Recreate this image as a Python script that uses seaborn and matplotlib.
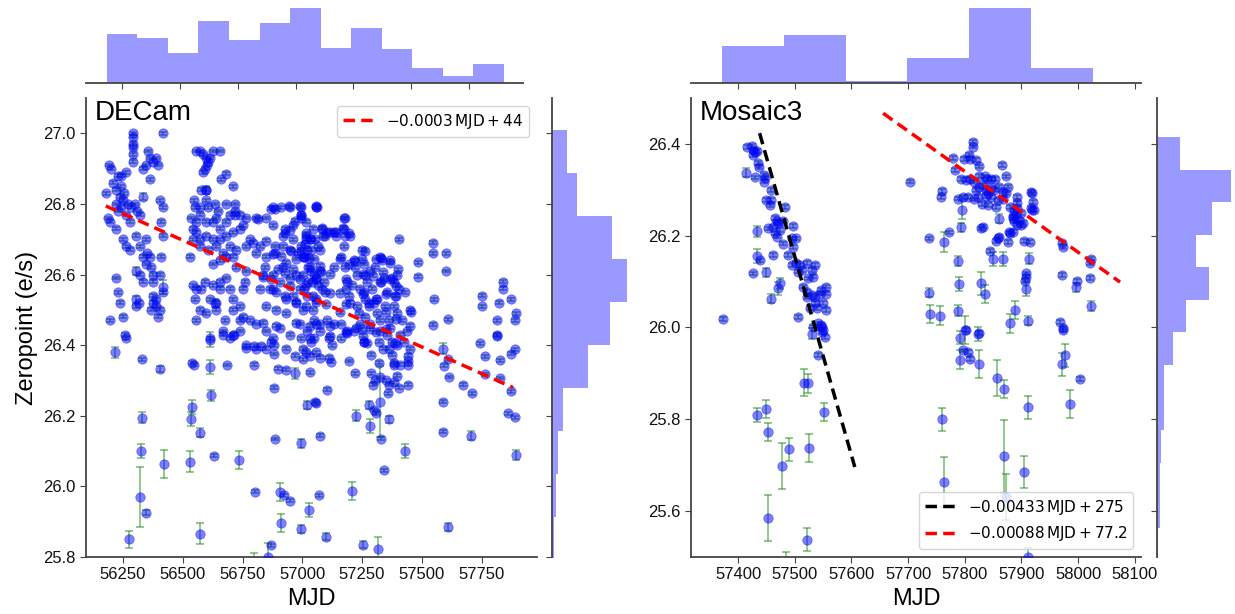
import numpy as np
import matplotlib
matplotlib.use("Agg")
import matplotlib.pyplot as plt
from matplotlib.ticker import MultipleLocator
import pandas as pd
import seaborn as sns

# ---------------- DECam: zeropoints per season (MJD, ZP in e/s) ----------------
dec_s1_mjd = [56180, 56191, 56198, 56187, 56194, 56219, 56229, 56243, 56261, 56208,
              56222, 56236, 56250, 56243, 56264, 56278, 56292, 56292, 56292, 56292,
              56292, 56292, 56222, 56229, 56250, 56264, 56278, 56306, 56320, 56334,
              56348, 56320, 56334, 56194, 56222, 56229, 56236, 56250, 56264, 56334,
              56355, 56362, 56375, 56389, 56395, 56348, 56417, 56403, 56417, 56410,
              56417, 56410, 56406, 56417, 56375, 56389, 56375, 56389, 56396, 56369,
              56403, 56306, 56316, 56348, 56352, 56362, 56369, 56375, 56375, 56300,
              56310, 56320, 56270, 56285, 56240, 56255, 56328, 56260, 56362]
dec_s1_zp = [26.83, 26.91, 26.90, 26.76, 26.75, 26.73, 26.88, 26.88, 26.89, 26.86,
             26.84, 26.82, 26.81, 26.79, 26.77, 26.75, 27.00, 26.99, 26.97, 26.96,
             26.94, 26.92, 26.80, 26.78, 26.70, 26.68, 26.67, 26.71, 26.68, 26.65,
             26.63, 26.60, 26.58, 26.47, 26.59, 26.55, 26.52, 26.48, 26.42, 26.90,
             26.95, 26.93, 26.92, 26.93, 26.91, 26.91, 27.00, 26.81, 26.79, 26.75,
             26.71, 26.65, 26.60, 26.55, 26.54, 26.53, 26.52, 26.51, 26.48, 26.50,
             26.50, 26.51, 26.52, 26.70, 26.66, 26.65, 26.62, 26.60, 26.58, 26.80,
             26.78, 26.77, 26.80, 26.79, 26.85, 26.83, 26.36, 26.43, 26.87]

dec_s2_mjd = [56557, 56571, 56585, 56596, 56606, 56612, 56592, 56585, 56603, 56654,
              56626, 56661, 56679, 56710, 56578, 56599, 56599, 56546, 56553, 56571,
              56606, 56633, 56647, 56682, 56717, 56720, 56536, 56557, 56571, 56599,
              56626, 56640, 56654, 56682, 56696, 56717, 56738, 56766, 56808, 56543,
              56557, 56571, 56599, 56626, 56654, 56682, 56710, 56738, 56752, 56780,
              56543, 56571, 56606, 56640, 56668, 56696, 56724, 56766, 56794, 56529,
              56626, 56654, 56682, 56724, 56710, 56766, 56808, 56759, 56752, 56543,
              56557, 56578, 56592, 56626, 56654, 56682, 56612, 56640, 56654, 56696,
              56710, 56738, 56550, 56571, 56599, 56640, 56675, 56710, 56738, 56752,
              56780, 56557, 56612, 56668, 56710, 56738, 56696, 56539, 56546, 56631,
              56687, 56764, 56800, 56800, 56828, 56668, 56715]
dec_s2_zp = [26.95, 26.95, 26.94, 26.93, 26.92, 26.93, 26.90, 26.89, 26.91, 26.95,
             26.95, 26.87, 26.885, 26.85, 26.84, 26.84, 26.81, 26.81, 26.79, 26.79,
             26.79, 26.80, 26.78, 26.80, 26.80, 26.78, 26.76, 26.75, 26.77, 26.75,
             26.75, 26.76, 26.73, 26.75, 26.77, 26.77, 26.77, 26.76, 26.76, 26.73,
             26.72, 26.70, 26.71, 26.70, 26.70, 26.71, 26.72, 26.73, 26.74, 26.70,
             26.70, 26.68, 26.67, 26.68, 26.66, 26.68, 26.67, 26.68, 26.69, 26.65,
             26.63, 26.64, 26.65, 26.62, 26.65, 26.61, 26.66, 26.58, 26.56, 26.57,
             26.56, 26.56, 26.58, 26.57, 26.58, 26.59, 26.53, 26.52, 26.56, 26.56,
             26.53, 26.51, 26.53, 26.50, 26.49, 26.50, 26.47, 26.50, 26.47, 26.48,
             26.47, 26.47, 26.42, 26.44, 26.43, 26.44, 26.42, 26.35, 26.345, 26.087,
             26.344, 26.392, 26.345, 26.399, 26.399, 26.43, 26.43]

dec_s3_mjd = [56877, 56912, 56947, 56996, 57059, 56849, 56877, 56926, 56961, 56996,
              57017, 57045, 56919, 56961, 57017, 57052, 56822, 56849, 56884, 56919,
              56947, 56982, 57010, 57038, 57066, 56835, 56877, 56919, 56947, 56975,
              57003, 57031, 57059, 56822, 56863, 56891, 56933, 56961, 56989, 57017,
              57045, 57066, 56849, 56891, 56933, 56975, 57003, 57045, 56808, 56849,
              56877, 56905, 56947, 56989, 57031, 57059, 56766, 56808, 56849, 56933,
              57003, 56993, 57060, 57014, 57035, 57083, 57087, 57104, 57132, 57139,
              57174, 57174, 57178, 57199, 56993, 57007, 57021, 57076, 57035, 57049,
              57076, 57090, 57042, 57083, 57007, 57021, 57056, 57097, 57132, 57160,
              57174, 57194, 57187, 57194, 57201, 57160, 57132, 57104, 57076, 57049,
              57021, 56993, 57111, 57160, 56881, 56884, 56922, 56949, 57054, 57056,
              57068, 57075, 56868, 56881, 56881, 56898, 56933, 56969, 57004, 57014,
              57031, 57038, 57059, 56804, 56870, 57104, 57032, 57049, 57076, 57111,
              57121, 57125, 57115, 57188]
dec_s3_zp = [26.79, 26.79, 26.79, 26.79, 26.79, 26.76, 26.74, 26.73, 26.74, 26.76,
             26.75, 26.73, 26.71, 26.70, 26.70, 26.70, 26.68, 26.65, 26.66, 26.68,
             26.67, 26.66, 26.65, 26.67, 26.68, 26.60, 26.60, 26.62, 26.59, 26.60,
             26.60, 26.62, 26.59, 26.56, 26.56, 26.55, 26.53, 26.54, 26.56, 26.57,
             26.54, 26.57, 26.51, 26.50, 26.49, 26.52, 26.50, 26.50, 26.46, 26.44,
             26.42, 26.45, 26.43, 26.46, 26.42, 26.46, 26.40, 26.39, 26.39, 26.39,
             26.39, 26.77, 26.79, 26.71, 26.70, 26.73, 26.71, 26.72, 26.72, 26.71,
             26.76, 26.73, 26.71, 26.71, 26.68, 26.65, 26.67, 26.67, 26.61, 26.60,
             26.61, 26.58, 26.58, 26.56, 26.56, 26.54, 26.53, 26.55, 26.62, 26.65,
             26.68, 26.63, 26.58, 26.54, 26.52, 26.46, 26.46, 26.47, 26.46, 26.47,
             26.44, 26.42, 26.42, 26.42, 26.28, 26.134, 25.975, 25.96, 26.24, 26.235,
             25.975, 26.143, 26.41, 26.40, 26.375, 26.333, 26.33, 26.37, 26.36, 26.38,
             26.37, 26.41, 26.38, 25.985, 25.833, 26.274, 26.323, 26.42, 26.364, 26.364,
             26.353, 26.40, 26.427, 26.435]

# extra points from the dense central cloud (seasons 3-4)
dec_mid_mjd = [56870, 56884, 56944, 56992, 57056, 56814, 56968, 56993, 57084, 57114,
               57139, 57170, 57177, 57195, 56926, 56950, 57014, 57033, 57093, 57010,
               56996, 57005, 57030, 56849, 56884, 56912, 56954, 56975, 56933, 56877,
               56842, 56898, 56926, 56961, 56835, 56870, 56905, 56947, 56989, 57024,
               57056, 57079, 57114, 57024, 57072, 57051, 57156, 57177, 57219, 57261,
               57251, 57309, 57330, 57365, 57400, 57337, 57365, 57393, 57330, 57295,
               57254, 57219, 57184, 57114, 57156, 57184, 57254, 57309, 57351, 57393,
               57456, 56877, 56926, 56975, 57017, 57058, 57100, 57156, 57184, 57281,
               57351, 57393, 57449, 56835, 56891, 56975, 57031, 57072, 57114, 57184,
               57226, 57254, 57309, 57351]
dec_mid_zp = [26.787, 26.785, 26.793, 26.793, 26.793, 26.757, 26.752, 26.768, 26.733, 26.721,
              26.721, 26.733, 26.759, 26.717, 26.717, 26.727, 26.717, 26.700, 26.708, 26.686,
              26.667, 26.651, 26.648, 26.696, 26.681, 26.653, 26.667, 26.644, 26.634, 26.658,
              26.620, 26.615, 26.604, 26.615, 26.592, 26.587, 26.578, 26.568, 26.587, 26.578,
              26.587, 26.606, 26.601, 26.620, 26.625, 26.644, 26.644, 26.620, 26.639, 26.667,
              26.644, 26.644, 26.648, 26.634, 26.615, 26.606, 26.587, 26.568, 26.578, 26.597,
              26.601, 26.620, 26.587, 26.549, 26.549, 26.559, 26.545, 26.530, 26.545, 26.540,
              26.493, 26.559, 26.540, 26.521, 26.512, 26.521, 26.516, 26.493, 26.516, 26.512,
              26.493, 26.474, 26.455, 26.464, 26.455, 26.464, 26.455, 26.441, 26.455, 26.436,
              26.450, 26.427, 26.436, 26.446]

dec_s4_mjd = [57215, 57250, 57257, 57264, 57285, 57326, 57333, 57368, 57375, 57382,
              57396, 57403, 57340, 57326, 57292, 57243, 57257, 57229, 57264, 57278,
              57299, 57313, 57354, 57389, 57382, 57396, 57361, 57326, 57285, 57243,
              57215, 57187, 57257, 57326, 57354, 57410, 57438, 57451, 57403, 57486,
              57486, 57301, 57310, 57329, 57351, 57361, 57357, 57382, 57403, 57326,
              57296, 57288, 57306, 57396, 57410, 57385, 57375, 57382, 57444, 57444,
              57444, 57444, 57319, 57288, 57260, 57271, 57250, 57285, 57319, 57338,
              57361, 57375, 57386, 57396, 57426, 57451, 57197, 57222, 57340, 57271,
              57306, 57229, 57208, 57236, 57313, 57347, 57417, 57431, 57264, 57368]
dec_s4_zp = [26.64, 26.67, 26.63, 26.60, 26.61, 26.65, 26.64, 26.64, 26.59, 26.58,
             26.60, 26.56, 26.59, 26.58, 26.56, 26.56, 26.55, 26.51, 26.53, 26.52,
             26.52, 26.53, 26.55, 26.54, 26.51, 26.49, 26.47, 26.47, 26.46, 26.46,
             26.44, 26.44, 26.41, 26.44, 26.43, 26.43, 26.44, 26.50, 26.70, 26.635,
             26.594, 26.217, 26.207, 26.135, 26.30, 26.288, 26.264, 26.295, 26.28, 26.31,
             26.288, 26.32, 26.30, 26.314, 26.345, 26.345, 26.373, 26.35, 26.345, 26.288,
             26.37, 26.355, 26.35, 26.373, 26.41, 26.405, 26.445, 26.445, 26.41, 26.39,
             26.39, 26.41, 26.405, 26.40, 26.41, 26.39, 26.355, 26.32, 26.045, 26.58,
             26.62, 26.60, 26.57, 26.49, 26.49, 26.51, 26.47, 26.55, 26.48, 26.45]

dec_s5_mjd = [57546, 57546, 57601, 57601, 57750, 57750, 57840, 57838, 57824, 57875,
              57813, 57813, 57893, 57889, 57549, 57611, 57546, 57611, 57592, 57615,
              57590, 57590, 57673, 57710, 57743, 57764, 57764, 57815, 57826, 57829,
              57861, 57889, 57875, 57875, 57889]
dec_s5_zp = [26.69, 26.66, 26.66, 26.61, 26.54, 26.51, 26.58, 26.56, 26.52, 26.53,
             26.47, 26.43, 26.49, 26.47, 26.53, 26.473, 26.458, 26.36, 26.342, 26.31,
             26.24, 26.155, 26.288, 26.264, 26.405, 26.369, 26.317, 26.427, 26.357, 26.307,
             26.207, 26.196, 26.269, 26.376, 26.388]

# DECam points with visible error bars
dec_bad_mjd = [56218, 56328, 56325, 56320, 56345, 56275, 56405, 56420, 56539, 56536,
               56571, 56532, 56574, 56614, 56614, 56617, 56736, 56856, 56800, 56905,
               56912, 56995, 56995, 57019, 57028, 56969, 57101, 57208, 57254, 57315,
               57431, 57611, 57226, 57285, 57278, 57324, 57361, 57707, 57896, 57590,
               56334, 56306, 56303, 56417, 56599, 56633]
dec_bad_zp = [26.38, 26.195, 26.10, 25.97, 25.926, 25.85, 26.333, 26.063, 26.225, 26.19,
              26.152, 26.07, 25.866, 26.416, 26.337, 26.258, 26.075, 25.80, 25.78, 25.985,
              25.897, 26.122, 25.879, 26.231, 25.933, 26.32, 25.858, 25.987, 25.835, 25.823,
              26.101, 25.885, 26.20, 26.17, 26.231, 26.24, 26.19, 26.144, 26.089, 26.39,
              26.82, 26.61, 26.53, 26.565, 26.84, 26.52]
dec_bad_err = [0.015, 0.015, 0.02, 0.085, 0.008, 0.025, 0.008, 0.04, 0.02, 0.02,
               0.012, 0.03, 0.03, 0.02, 0.02, 0.015, 0.025, 0.04, 0.03, 0.025,
               0.025, 0.012, 0.012, 0.012, 0.02, 0.015, 0.01, 0.025, 0.01, 0.035,
               0.02, 0.012, 0.015, 0.02, 0.012, 0.1, 0.01, 0.012, 0.015, 0.015,
               0.01, 0.01, 0.01, 0.02, 0.012, 0.012]

# ---------------- Mosaic3 ----------------
mos_a_mjd = [57416, 57424, 57427, 57430, 57433, 57426, 57436, 57437, 57430, 57445,
             57448, 57446, 57459, 57449, 57456, 57458, 57483, 57465, 57468, 57462,
             57471, 57480, 57474, 57465, 57468, 57497, 57453, 57480, 57495, 57503,
             57497, 57489, 57495, 57503, 57509, 57512, 57506, 57521, 57530, 57536,
             57533, 57524, 57439, 57462, 57426, 57373, 57506, 57515, 57521, 57530,
             57536, 57539, 57527, 57544, 57547, 57556, 57556, 57555, 57550, 57536,
             57521, 57533, 57549, 57550, 57547, 57541, 57549, 57553, 57541]
mos_a_zp = [26.393, 26.396, 26.387, 26.383, 26.385, 26.376, 26.359, 26.349, 26.327, 26.332,
            26.325, 26.318, 26.300, 26.278, 26.267, 26.278, 26.262, 26.238, 26.231, 26.220,
            26.227, 26.231, 26.212, 26.205, 26.198, 26.221, 26.216, 26.183, 26.194, 26.194,
            26.176, 26.158, 26.136, 26.140, 26.136, 26.125, 26.122, 26.140, 26.125, 26.136,
            26.111, 26.107, 26.146, 26.158, 26.118, 26.019, 26.023, 26.089, 26.078, 26.071,
            26.053, 26.042, 26.042, 26.074, 26.081, 26.089, 26.074, 26.038, 26.053, 26.067,
            26.067, 26.002, 26.002, 25.994, 26.006, 26.009, 25.990, 25.980, 25.940]

mos_b_mjd = [57703, 57760, 57758, 57779, 57782, 57799, 57808, 57809, 57820, 57814,
             57814, 57825, 57794, 57802, 57809, 57817, 57826, 57835, 57839, 57846,
             57854, 57866, 57873, 57826, 57832, 57838, 57841, 57846, 57852, 57860,
             57867, 57876, 57873, 57820, 57823, 57831, 57838, 57846, 57858, 57867,
             57855, 57841, 57788, 57797, 57805, 57817, 57893, 57893, 57917, 57919,
             57920, 57919, 57923, 57917, 57879, 57887, 57893, 57885, 57890, 57896,
             57899, 57902, 57885, 57887, 57893, 57899, 57878, 57885, 57829, 57833,
             57772, 57737, 57858, 57861, 57855, 57876, 57879, 57905, 57915, 57845,
             57971, 57973, 58022, 58021, 57971, 57998, 58021, 57908, 57908, 57907,
             57968, 57974, 57802, 57825, 57974, 57797, 57805, 57809, 58004]
mos_b_zp = [26.318, 26.298, 26.285, 26.369, 26.343, 26.367, 26.376, 26.367, 26.365, 26.405,
            26.394, 26.351, 26.323, 26.321, 26.323, 26.318, 26.330, 26.329, 26.323, 26.323,
            26.323, 26.354, 26.329, 26.307, 26.311, 26.300, 26.292, 26.304, 26.300, 26.307,
            26.296, 26.307, 26.292, 26.300, 26.285, 26.269, 26.287, 26.285, 26.278, 26.281,
            26.262, 26.267, 26.281, 26.285, 26.285, 26.279, 26.285, 26.271, 26.296, 26.292,
            26.274, 26.256, 26.256, 26.260, 26.263, 26.256, 26.260, 26.242, 26.245, 26.234,
            26.249, 26.228, 26.238, 26.231, 26.223, 26.223, 26.207, 26.209, 26.216, 26.220,
            26.207, 26.194, 26.194, 26.198, 26.189, 26.187, 26.205, 26.189, 26.187, 26.167,
            26.185, 26.175, 26.150, 26.140, 26.114, 26.102, 26.108, 26.118, 26.111, 26.102,
            26.012, 25.999, 25.995, 25.988, 25.995, 25.950, 25.946, 25.931, 25.888]

mos_bad_mjd = [57414, 57434, 57433, 57450, 57474, 57471, 57459, 57531, 57516, 57524,
               57551, 57434, 57449, 57453, 57478, 57490, 57525, 57453, 57522, 57485,
               57860, 57794, 57795, 57763, 57849, 57867, 57914, 57788, 57996, 58023,
               57908, 57829, 57835, 57790, 57737, 57738, 57757, 57788, 57889, 57880,
               57911, 57801, 57792, 57824, 57791, 57825, 57857, 57870, 57912, 57986,
               57971, 57977, 57759, 57763, 57870, 57872, 57905, 57911]
mos_bad_zp = [26.337, 26.21, 26.155, 26.12, 26.096, 26.085, 26.063, 25.986, 25.88, 25.878,
              25.816, 25.81, 25.822, 25.772, 25.698, 25.735, 25.737, 25.585, 25.538, 25.48,
              26.237, 26.218, 26.256, 26.187, 26.15, 26.15, 26.15, 26.145, 26.088, 26.047,
              26.084, 26.096, 26.073, 26.095, 26.076, 26.029, 26.026, 26.036, 26.038, 26.009,
              26.015, 25.994, 25.978, 25.986, 25.93, 25.92, 25.89, 25.866, 25.826, 25.833,
              25.92, 25.94, 25.80, 25.663, 25.719, 25.63, 25.685, 25.50]
mos_bad_err = [0.01, 0.012, 0.015, 0.01, 0.012, 0.015, 0.01, 0.012, 0.03, 0.02,
               0.02, 0.015, 0.02, 0.02, 0.05, 0.025, 0.03, 0.05, 0.025, 0.03,
               0.01, 0.01, 0.02, 0.022, 0.015, 0.015, 0.012, 0.01, 0.01, 0.01,
               0.015, 0.025, 0.02, 0.015, 0.01, 0.02, 0.02, 0.012, 0.02, 0.02,
               0.01, 0.03, 0.015, 0.015, 0.02, 0.03, 0.04, 0.02, 0.025, 0.03,
               0.025, 0.025, 0.025, 0.055, 0.08, 0.05, 0.035, 0.02]

typical_err = 0.004

# linear fits: slope, intercept, MJD span
dec_fit = (-0.000302, 43.76, [56178, 57882])
mos_fit1 = (-0.00433, 275.13, [57438, 57606])
mos_fit2 = (-0.00088, 77.204, [57656, 58074])

# marginal histograms (counts)
dec_mjd_counts = [48, 44, 30, 61, 42, 59, 74, 35, 54, 34, 15, 7, 19]
dec_mjd_range = (56185, 57900)
dec_zp_counts = [4, 7, 11, 20, 65, 104, 135, 107, 44, 26]
dec_zp_range = (25.79, 27.01)
mos_mjd_counts = [40, 52, 2, 27, 82, 16]
mos_mjd_range = (57372, 58026)
mos_zp_counts = [1, 2, 2, 3, 5, 5, 11, 20, 36, 27, 38, 51, 16]
mos_zp_range = (25.493, 26.415)

# ---------------- style ----------------
sns.set_style("ticks")
plt.rcParams["font.family"] = ["Liberation Sans", "DejaVu Sans"]
plt.rcParams["text.color"] = "black"
plt.rcParams["axes.labelcolor"] = "black"
plt.rcParams["axes.edgecolor"] = "#444444"
plt.rcParams["axes.linewidth"] = 1.3
plt.rcParams["xtick.color"] = "#444444"
plt.rcParams["ytick.color"] = "#444444"
plt.rcParams["xtick.labelcolor"] = "#111111"
plt.rcParams["ytick.labelcolor"] = "#111111"
plt.rcParams["xtick.major.size"] = 4
plt.rcParams["ytick.major.size"] = 4
plt.rcParams["xtick.labelsize"] = 12
plt.rcParams["ytick.labelsize"] = 12

W, H = 1235, 614
fig = plt.figure(figsize=(W / 100, H / 100), dpi=100)


def px_axes(x0, y0, x1, y1):
    return fig.add_axes([x0 / W, 1 - y1 / H, (x1 - x0) / W, (y1 - y0) / H])


def hist(ax, counts, rng, vertical):
    edges = np.linspace(rng[0], rng[1], len(counts) + 1)
    df = pd.DataFrame({"v": 0.5 * (edges[:-1] + edges[1:]), "w": counts})
    axis = "x" if vertical else "y"
    sns.histplot(data=df, weights="w", bins=list(edges), element="step", fill=True,
                 color="blue", alpha=0.4, linewidth=0, ax=ax, **{axis: "v"})
    ax.set_xlabel("")
    ax.set_ylabel("")


def panel(main, top, side, good_x, good_y, bad_x, bad_y, bad_e, fits, name,
          xlim, ylim, xstep, mjd_counts, mjd_range, zp_counts, zp_range, legend_loc):
    main.errorbar(good_x, good_y, yerr=typical_err, fmt="none", ecolor="green",
                  alpha=0.5, capsize=3, elinewidth=1.2, capthick=1.2, zorder=2)
    main.errorbar(bad_x, bad_y, yerr=bad_e, fmt="none", ecolor="green",
                  alpha=0.5, capsize=3, elinewidth=1.2, capthick=1.2, zorder=2)
    sns.scatterplot(x=list(good_x) + list(bad_x), y=list(good_y) + list(bad_y), ax=main,
                    color="blue", alpha=0.5, s=46, edgecolor="blue", linewidth=0.5,
                    zorder=3, legend=False)
    for (slope, icpt, span), col, lab in fits:
        xs = np.array(span, dtype=float)
        sns.lineplot(x=xs, y=slope * xs + icpt, ax=main, color=col, lw=2.5,
                     linestyle=(0, (3.3, 1.8)), label=lab, zorder=4)
    main.legend(loc=legend_loc, fontsize=11, frameon=True, handlelength=2.0)
    main.set_xlim(xlim)
    main.set_ylim(ylim)
    main.xaxis.set_major_locator(MultipleLocator(xstep))
    main.yaxis.set_major_locator(MultipleLocator(0.2))
    main.set_xlabel("MJD", fontsize=17)
    main.text(0.02, 0.995, name, transform=main.transAxes, fontsize=20,
              ha="left", va="top")
    sns.despine(ax=main)

    hist(top, mjd_counts, mjd_range, True)
    top.set_xlim(xlim)
    top.set_ylim(0, max(mjd_counts) * 1.08)
    top.xaxis.set_major_locator(MultipleLocator(xstep))
    top.tick_params(labelbottom=False)
    top.set_yticks([])
    sns.despine(ax=top, left=True)

    hist(side, zp_counts, zp_range, False)
    side.set_ylim(ylim)
    side.set_xlim(0, max(zp_counts) * 1.06)
    side.yaxis.set_major_locator(MultipleLocator(0.2))
    side.tick_params(labelleft=False)
    side.set_xticks([])
    sns.despine(ax=side, bottom=True)


# DECam panel
ax1 = px_axes(86, 98, 537, 557)
ax1t = px_axes(86, 2, 523, 83)
ax1s = px_axes(552, 98, 632, 557)
panel(ax1, ax1t, ax1s,
      dec_s1_mjd + dec_s2_mjd + dec_s3_mjd + dec_mid_mjd + dec_s4_mjd + dec_s5_mjd,
      dec_s1_zp + dec_s2_zp + dec_s3_zp + dec_mid_zp + dec_s4_zp + dec_s5_zp,
      dec_bad_mjd, dec_bad_zp, dec_bad_err,
      [(dec_fit, "red", r"$-0.0003\,\mathrm{MJD} + 44$")],
      "DECam", (56095, 57982), (25.8, 27.1), 250,
      dec_mjd_counts, dec_mjd_range, dec_zp_counts, dec_zp_range, "upper right")
ax1.set_ylabel("Zeropoint (e/s)", fontsize=17)

# Mosaic3 panel
ax2 = px_axes(691, 98, 1141, 557)
ax2t = px_axes(691, 2, 1141, 83)
ax2s = px_axes(1157, 98, 1235, 557)
panel(ax2, ax2t, ax2s,
      mos_a_mjd + mos_b_mjd, mos_a_zp + mos_b_zp,
      mos_bad_mjd, mos_bad_zp, mos_bad_err,
      [(mos_fit1, "black", r"$-0.00433\,\mathrm{MJD} + 275$"),
       (mos_fit2, "red", r"$-0.00088\,\mathrm{MJD} + 77.2$")],
      "Mosaic3", (57317, 58111), (25.5, 26.5), 100,
      mos_mjd_counts, mos_mjd_range, mos_zp_counts, mos_zp_range, "lower right")

fig.savefig("out.png", dpi=100)
